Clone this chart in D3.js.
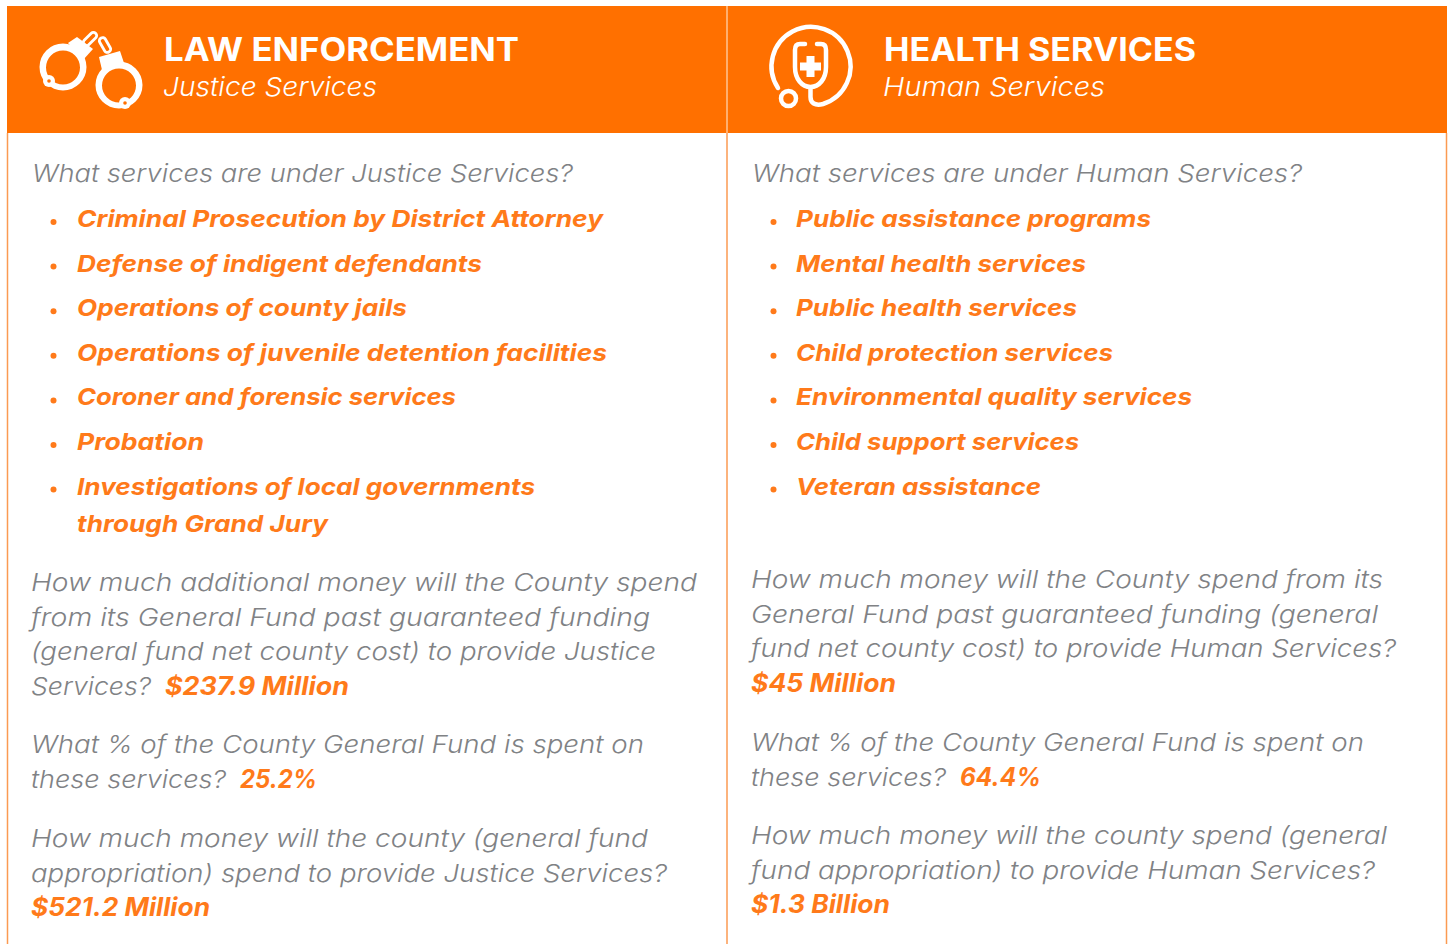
<!DOCTYPE html>
<html>
<head>
<meta charset="utf-8">
<script src="https://cdn.jsdelivr.net/npm/d3@7"></script>
<style>
	html, body { margin: 0; padding: 0; background: #fff; }
	svg { display: block; }
	text { font-family: Inter, "Open Sans", sans-serif; }
</style>
</head>
<body>
<svg id="chart" width="1448" height="944"></svg>
<script>
const titles = ['LAW ENFORCEMENT', 'HEALTH SERVICES']
const subtitles = ['Justice Services', 'Human Services']
const questions = ['What services are under Justice Services?', 'What services are under Human Services?']

const justiceItems = [
	['Criminal Prosecution by District Attorney'],
	['Defense of indigent defendants'],
	['Operations of county jails'],
	['Operations of juvenile detention facilities'],
	['Coroner and forensic services'],
	['Probation'],
	['Investigations of local governments', 'through Grand Jury']
]
const humanItems = [
	['Public assistance programs'],
	['Mental health services'],
	['Public health services'],
	['Child protection services'],
	['Environmental quality services'],
	['Child support services'],
	['Veteran assistance']
]

// a line is [gray text, orange text]
const justiceParas = [
	[['How much additional money will the County spend', ''],
	 ['from its General Fund past guaranteed funding', ''],
	 ['(general fund net county cost) to provide Justice', ''],
	 ['Services?', '$237.9 Million']],
	[['What % of the County General Fund is spent on', ''],
	 ['these services?', '25.2%']],
	[['How much money will the county (general fund', ''],
	 ['appropriation) spend to provide Justice Services?', ''],
	 ['', '$521.2 Million']]
]
const humanParas = [
	[['How much money will the County spend from its', ''],
	 ['General Fund past guaranteed funding (general', ''],
	 ['fund net county cost) to provide Human Services?', ''],
	 ['', '$45 Million']],
	[['What % of the County General Fund is spent on', ''],
	 ['these services?', '64.4%']],
	[['How much money will the county spend (general', ''],
	 ['fund appropriation) to provide Human Services?', ''],
	 ['', '$1.3 Billion']]
]

const ORANGE = '#ff7000'
const ORANGE_TEXT = '#ff7a1a'
const GRAY = '#808285'
const BORDER = '#fb9a52'

const svg = d3.select('#chart')

const styles = {
	title: { size: 32, weight: 700, italic: false, fill: '#fff' },
	sub: { size: 26, weight: 300, italic: true, fill: '#fff' },
	gray: { size: 24.5, weight: 300, italic: true, fill: GRAY },
	item: { size: 23.5, weight: 700, italic: true, fill: ORANGE_TEXT },
	value: { size: 25, weight: 700, italic: true, fill: ORANGE_TEXT }
}

// the stand-in font runs narrower than the original, each line is fitted to the width it has there
const fitWidths = new Map([
	['LAW ENFORCEMENT', 355], ['HEALTH SERVICES', 312],
	['Justice Services', 214], ['Human Services', 222],
	['What services are under Justice Services?', 541], ['What services are under Human Services?', 550],
	['Criminal Prosecution by District Attorney', 526], ['Defense of indigent defendants', 405],
	['Operations of county jails', 330], ['Operations of juvenile detention facilities', 530],
	['Coroner and forensic services', 379], ['Probation', 127],
	['Investigations of local governments', 458], ['through Grand Jury', 251],
	['Public assistance programs', 355], ['Mental health services', 290],
	['Public health services', 281], ['Child protection services', 317],
	['Environmental quality services', 396], ['Child support services', 283],
	['Veteran assistance', 245],
	['How much additional money will the County spend', 666],
	['from its General Fund past guaranteed funding', 619],
	['(general fund net county cost) to provide Justice', 625],
	['Services?', 120], ['$237.9 Million', 184],
	['What % of the County General Fund is spent on', 613],
	['these services?', 195], ['25.2%', 77], ['64.4%', 81],
	['How much money will the county (general fund', 617],
	['appropriation) spend to provide Justice Services?', 636],
	['$521.2 Million', 179],
	['How much money will the County spend from its', 632],
	['General Fund past guaranteed funding (general', 627],
	['fund net county cost) to provide Human Services?', 645],
	['$45 Million', 145],
	['How much money will the county spend (general', 636],
	['fund appropriation) to provide Human Services?', 624],
	['$1.3 Billion', 139]
])

function put(g, str, x, y, style) {
	const w = fitWidths.get(str)
	g.append('text')
		.attr('x', x)
		.attr('y', y)
		.attr('font-size', style.size)
		.attr('font-weight', style.weight)
		.attr('font-style', style.italic ? 'italic' : 'normal')
		.attr('fill', style.fill)
		.attr('textLength', w)
		.attr('lengthAdjust', 'spacingAndGlyphs')
		.text(str)
	return w
}

const columnX = d3.scalePoint().domain([0, 1]).range([7, 727])
const COLUMN_W = 720

const itemRow = d3.scaleLinear().domain([0, 1]).range([227, 271.6])
const paraRow = d3.scaleLinear().domain([0, 1]).range([0, 34.65])

function drawHandcuffs(g) {
	const cuff = g.append('g').attr('fill', '#fff').attr('stroke', 'none')
	cuff.append('path').attr('fill-rule', 'evenodd')
		.attr('d', 'M39.500,67a23.500,23.500 0 1,0 47,0a23.500,23.500 0 1,0 -47,0Z M46,67.500a17,17 0 1,1 34,0a17,17 0 1,1 -34,0Z')
	cuff.append('path').attr('fill-rule', 'evenodd')
		.attr('d', 'M95.500,85a23.500,23.500 0 1,0 47,0a23.500,23.500 0 1,0 -47,0Z M102,85.500a17,17 0 1,1 34,0a17,17 0 1,1 -34,0Z')
	cuff.append('polygon').attr('points', '68,43 77,37 93,49 83,60')
	cuff.append('polygon').attr('points', '99,57 120,51 124,63 102,70')
	cuff.append('circle').attr('cx', 49).attr('cy', 81).attr('r', 6)
	cuff.append('circle').attr('cx', 125).attr('cy', 103).attr('r', 6)
	g.append('circle').attr('cx', 49).attr('cy', 81).attr('r', 1.8).attr('fill', ORANGE)
	g.append('circle').attr('cx', 125).attr('cy', 103).attr('r', 1.8).attr('fill', ORANGE)
	const links = g.append('g').attr('fill', 'none').attr('stroke', '#fff').attr('stroke-width', 2.8)
	links.append('rect').attr('x', -3.2).attr('y', -8).attr('width', 6.4).attr('height', 16).attr('rx', 3)
		.attr('transform', 'translate(90,39) rotate(45)')
	links.append('rect').attr('x', -3.2).attr('y', -8).attr('width', 6.4).attr('height', 16).attr('rx', 3)
		.attr('transform', 'translate(105,45) rotate(-30)')
}

function drawStethoscope(g) {
	const s = g.append('g').attr('fill', 'none').attr('stroke', '#fff')
		.attr('stroke-width', 4.5).attr('stroke-linecap', 'round').attr('stroke-linejoin', 'round')
	s.append('path').attr('d', 'M778,88A39.500,39.500 0 1,1 823,104C815,106 810.500,103 810.500,97L810.500,88')
	s.append('path').attr('d', 'M805,44L800,44C796,44 795,47 795,50L795,67C795,79 802,87 810.500,87C819,87 826,79 826,67L826,50C826,47 825,44 821,44L817,44')
	s.append('circle').attr('cx', 788.5).attr('cy', 98.5).attr('r', 7.5)
	g.append('path').attr('fill', '#fff')
		.attr('d', 'M806.500,56H814.500V62.500H821V70.500H814.500V77H806.500V70.500H800V62.500H806.500Z')
}

function drawColumn(i, items, paras, paraY) {
	const x0 = columnX(i)
	const g = svg.append('g').attr('class', 'column')
	g.append('rect').attr('x', x0).attr('y', 6).attr('width', COLUMN_W).attr('height', 127).attr('fill', ORANGE)

	const left = i === 0 ? 164 : 884
	put(g, titles[i], left, 61, styles.title)
	put(g, subtitles[i], left - 1, 96, styles.sub)

	const textX = x0 + 25
	const itemX = x0 + 70 - (i ? 1 : 0)
	put(g, questions[i], textX, 182, styles.gray)

	let row = 0
	items.forEach(lines => {
		const y = itemRow(row)
		g.append('circle').attr('cx', x0 + 46.5).attr('cy', y - 5).attr('r', 3).attr('fill', ORANGE_TEXT)
		lines.forEach((line, k) => {
			put(g, line, itemX, y + k * 37, styles.item)
		})
		row += 1
	})

	paras.forEach((para, p) => {
		para.forEach((line, k) => {
			const y = paraY[p] + paraRow(k)
			let x = textX - 1
			if (line[0]) x += put(g, line[0], x, y, styles.gray) + 14
			if (line[1]) put(g, line[1], x, y, styles.value)
		})
	})
}

drawColumn(0, justiceItems, justiceParas, [591, 753, 847])
drawColumn(1, humanItems, humanParas, [588, 751, 844])

// borders on top of the column fills
const borderX = [7.5, 727, 1446.5]
svg.selectAll('line.border').data(borderX).join('line')
	.attr('class', 'border')
	.attr('x1', d => d).attr('x2', d => d)
	.attr('y1', 133).attr('y2', 944)
	.attr('stroke', BORDER).attr('stroke-width', 1.5)
svg.append('line').attr('x1', 727).attr('x2', 727).attr('y1', 6).attr('y2', 133)
	.attr('stroke', '#ffc594').attr('stroke-width', 1.5)

const icons = svg.append('g')
drawHandcuffs(icons)
drawStethoscope(icons)
</script>
</body>
</html>
